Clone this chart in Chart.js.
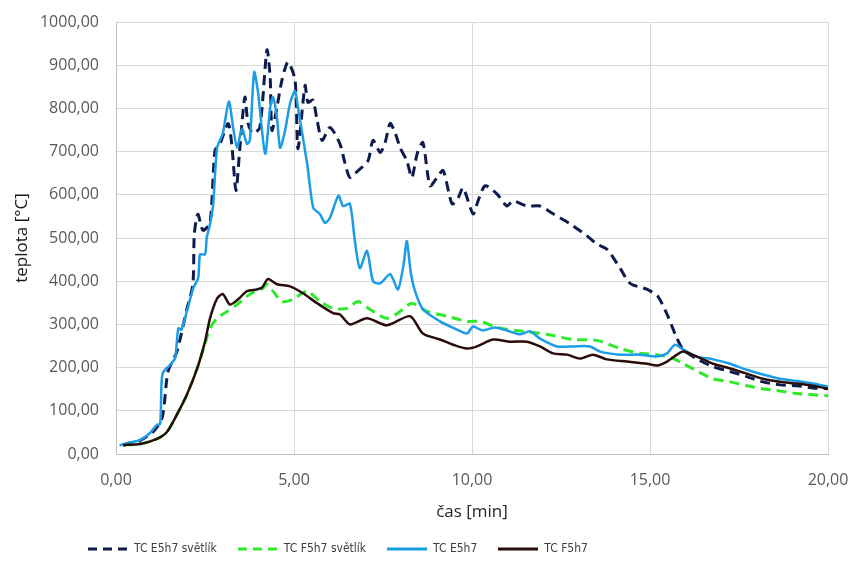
<!DOCTYPE html>
<html>
<head>
<meta charset="utf-8">
<script src="https://cdn.jsdelivr.net/npm/chart.js@4/dist/chart.umd.min.js"></script>
<style>
  html, body { margin: 0; padding: 0; background: #ffffff; }
  #wrap { width: 850px; height: 570px; }
</style>
</head>
<body>
<div id="wrap"><canvas id="c" width="850" height="570"></canvas></div>
<script>
// ---- Data (time in min, temperature in °C) ----
const seriesNames = ['TC E5h7 světlík', 'TC F5h7 světlík', 'TC E5h7', 'TC F5h7'];

const e5SvTime = [0.2, 0.6, 1.04, 1.3, 1.46, 1.71, 1.99, 2.16, 2.2, 2.3, 2.44, 2.64, 2.78, 2.92, 3.15, 3.25, 3.37, 3.48, 3.62, 3.71, 3.85, 4.04, 4.24, 4.33, 4.38, 4.52, 4.66, 4.83, 5.03, 5.11, 5.31, 5.39, 5.53, 5.65, 5.79, 6.01, 6.29, 6.43, 6.57, 6.8, 7.08, 7.22, 7.42, 7.56, 7.7, 7.84, 7.98, 8.17, 8.31, 8.46, 8.62, 8.82, 9.02, 9.19, 9.44, 9.61, 9.75, 10.03, 10.17, 10.37, 10.7, 10.98, 11.15, 11.54, 11.91, 12.28, 12.75, 13.23, 13.51, 13.79, 14.16, 14.44, 14.92, 15.22, 15.48, 15.76, 15.93, 16.3, 16.77, 17.25, 17.72, 18.17, 18.65, 19.13, 19.58, 20.0];
const e5SvTemp = [20, 28, 51, 85, 190, 237, 335, 393, 509, 555, 518, 535, 702, 718, 765, 718, 610, 709, 826, 765, 742, 756, 935, 872, 749, 802, 865, 907, 865, 707, 853, 814, 819, 772, 726, 756, 718, 674, 640, 656, 679, 726, 698, 721, 765, 744, 709, 679, 640, 695, 721, 621, 640, 656, 579, 593, 616, 556, 586, 621, 602, 574, 586, 574, 574, 556, 533, 505, 486, 474, 430, 395, 381, 365, 323, 267, 242, 221, 202, 191, 179, 167, 160, 158, 153, 151];

const f5SvTime = [0.2, 0.67, 1.15, 1.43, 1.71, 1.99, 2.28, 2.5, 2.64, 2.84, 3.12, 3.4, 3.76, 4.13, 4.24, 4.41, 4.66, 4.97, 5.37, 5.73, 6.1, 6.49, 6.8, 7.13, 7.61, 7.98, 8.31, 8.74, 9.3, 9.86, 10.22, 10.79, 11.43, 12.1, 12.84, 13.51, 14.16, 14.72, 15.2, 15.65, 15.93, 16.3, 16.77, 17.25, 17.72, 18.17, 18.65, 19.13, 19.58, 20.0];
const f5SvTemp = [21, 23, 35, 51, 91, 137, 198, 255, 291, 314, 330, 346, 370, 384, 393, 377, 353, 358, 377, 353, 337, 337, 353, 335, 314, 330, 349, 330, 319, 307, 307, 291, 284, 277, 265, 263, 244, 233, 230, 221, 209, 193, 174, 167, 158, 151, 146, 140, 137, 135];

const e5Time = [0.1, 0.4, 0.67, 0.95, 1.14, 1.24, 1.28, 1.33, 1.52, 1.66, 1.75, 1.84, 1.99, 2.17, 2.31, 2.36, 2.5, 2.55, 2.64, 2.73, 2.84, 3.0, 3.17, 3.29, 3.4, 3.54, 3.68, 3.76, 3.88, 3.99, 4.19, 4.33, 4.41, 4.52, 4.61, 4.75, 4.89, 5.03, 5.11, 5.37, 5.54, 5.73, 5.87, 6.01, 6.25, 6.38, 6.57, 6.71, 6.85, 7.05, 7.22, 7.42, 7.7, 7.92, 8.08, 8.17, 8.28, 8.4, 8.62, 9.1, 9.58, 9.86, 10.03, 10.3, 10.65, 10.98, 11.35, 11.63, 11.91, 12.39, 12.84, 13.31, 13.6, 14.16, 14.72, 15.2, 15.48, 15.7, 15.93, 16.3, 16.77, 17.25, 17.72, 18.17, 18.65, 19.13, 19.58, 20.0];
const e5Temp = [20, 27, 32, 48, 67, 70, 167, 190, 206, 222, 291, 288, 330, 384, 408, 462, 462, 501, 532, 578, 709, 742, 816, 756, 709, 753, 718, 726, 884, 837, 695, 802, 826, 779, 709, 749, 812, 840, 802, 672, 570, 555, 535, 547, 598, 574, 579, 493, 430, 470, 400, 395, 416, 381, 440, 493, 420, 377, 335, 307, 288, 279, 295, 286, 293, 286, 277, 284, 267, 249, 249, 249, 237, 230, 230, 226, 233, 253, 242, 226, 219, 209, 195, 184, 174, 169, 163, 156];

const f5Time = [0.2, 0.67, 1.15, 1.43, 1.71, 1.99, 2.28, 2.5, 2.64, 2.84, 3.0, 3.2, 3.43, 3.68, 3.96, 4.1, 4.27, 4.52, 4.89, 5.25, 5.65, 6.1, 6.29, 6.57, 7.05, 7.61, 8.26, 8.62, 9.1, 9.47, 9.86, 10.14, 10.59, 11.07, 11.54, 11.91, 12.28, 12.67, 13.03, 13.4, 13.79, 14.35, 14.92, 15.2, 15.48, 15.76, 15.93, 16.3, 16.77, 17.25, 17.72, 18.17, 18.65, 19.13, 19.58, 20.0];
const f5Temp = [21, 23, 35, 51, 91, 137, 198, 260, 314, 360, 370, 346, 358, 377, 381, 385, 405, 393, 388, 372, 349, 326, 323, 300, 314, 298, 319, 279, 265, 253, 244, 249, 265, 260, 260, 249, 233, 230, 221, 230, 219, 214, 209, 205, 214, 230, 237, 226, 209, 198, 186, 174, 167, 163, 158, 151];

const xTickValues = [0, 5, 10, 15, 20];
const yTickValues = [0, 100, 200, 300, 400, 500, 600, 700, 800, 900, 1000];
const xTitle = 'čas [min]';
const yTitle = 'teplota [°C]';

// ---- Build ----
function pts(ts, vs) { return ts.map((t, i) => ({ x: t, y: vs[i] })); }
function fmt(v) { return Number(v).toFixed(2).replace('.', ','); }

// small legend swatch images (line with the dataset's dash pattern)
function swatch(color, width, dash) {
  const cv = document.createElement('canvas');
  cv.width = 40; cv.height = 4;
  const g = cv.getContext('2d');
  g.strokeStyle = color; g.lineWidth = width; g.lineCap = 'butt';
  g.setLineDash(dash);
  g.beginPath(); g.moveTo(0, 2); g.lineTo(40, 2); g.stroke();
  return cv;
}

const tickFont = { family: "'Open Sans', 'Noto Sans', sans-serif", size: 16 };
const titleFont = { family: "'Open Sans', 'Noto Sans', sans-serif", size: 17 };

const legendShift = {
  id: 'legendShift',
  beforeDraw(chart) {
    if (chart.legend) { chart.legend.left = 67; }
  }
};

const navy = '#0e1b4d', green = '#2ee82a', blue = '#1a9de6', brown = '#2a0d0a';

new Chart(document.getElementById('c'), {
  type: 'line',
  data: {
    datasets: [
      { label: seriesNames[0], data: pts(e5SvTime, e5SvTemp), borderColor: navy, backgroundColor: navy, borderWidth: 3, borderDash: [10, 6], order: 4, pointStyle: swatch(navy, 3, [9, 6]) },
      { label: seriesNames[1], data: pts(f5SvTime, f5SvTemp), borderColor: green, backgroundColor: green, borderWidth: 3, borderDash: [10, 6], order: 3, pointStyle: swatch(green, 3, [9, 6]) },
      { label: seriesNames[2], data: pts(e5Time, e5Temp), borderColor: blue, backgroundColor: blue, borderWidth: 2.5, order: 2, pointStyle: swatch(blue, 3, []) },
      { label: seriesNames[3], data: pts(f5Time, f5Temp), borderColor: brown, backgroundColor: brown, borderWidth: 2.5, order: 1, pointStyle: swatch(brown, 3, []) }
    ]
  },
  options: {
    responsive: false,
    animation: false,
    devicePixelRatio: 1,
    elements: { point: { radius: 0, hoverRadius: 0 }, line: { tension: 0.25, borderCapStyle: 'butt' } },
    layout: { padding: { left: 0, right: 22, top: 22, bottom: 5 } },
    plugins: {
      tooltip: { enabled: false },
      legend: {
        position: 'bottom',
        align: 'start',
        labels: {
          usePointStyle: true,
          pointStyleWidth: 40,
          boxHeight: 12,
          padding: 21,
          color: '#404040',
          sort: (a, b) => a.datasetIndex - b.datasetIndex,
          font: { family: "'Liberation Sans Narrow', 'DejaVu Sans Condensed', sans-serif", size: 12 }
        }
      }
    },
    scales: {
      x: {
        type: 'linear',
        min: 0, max: 20,
        afterBuildTicks: (s) => { s.ticks = xTickValues.map(v => ({ value: v })); },
        afterFit: (s) => { s.height = 68; s.paddingLeft = 0; s.paddingRight = 0; },
        grid: { color: '#d9d9d9', lineWidth: 1, drawTicks: false },
        border: { color: '#bfbfbf', width: 1 },
        ticks: { padding: 17, maxRotation: 0, autoSkip: false, color: '#595959', font: tickFont, callback: (v) => fmt(v) },
        title: { display: true, text: xTitle, color: '#262626', font: titleFont, padding: { top: 0, bottom: 0 } }
      },
      y: {
        type: 'linear',
        min: 0, max: 1000,
        afterBuildTicks: (s) => { s.ticks = yTickValues.map(v => ({ value: v })); },
        afterFit: (s) => { s.width = 116; s.paddingTop = 0; s.paddingBottom = 0; },
        grid: { color: '#d9d9d9', lineWidth: 1, drawTicks: false },
        border: { color: '#bfbfbf', width: 1 },
        ticks: { padding: 17, autoSkip: false, color: '#595959', font: tickFont, callback: (v) => fmt(v) },
        title: { display: true, text: yTitle, color: '#1a1a1a', font: titleFont, padding: { top: 12, bottom: 0 } }
      }
    }
  },
  plugins: [legendShift]
});
</script>
</body>
</html>
